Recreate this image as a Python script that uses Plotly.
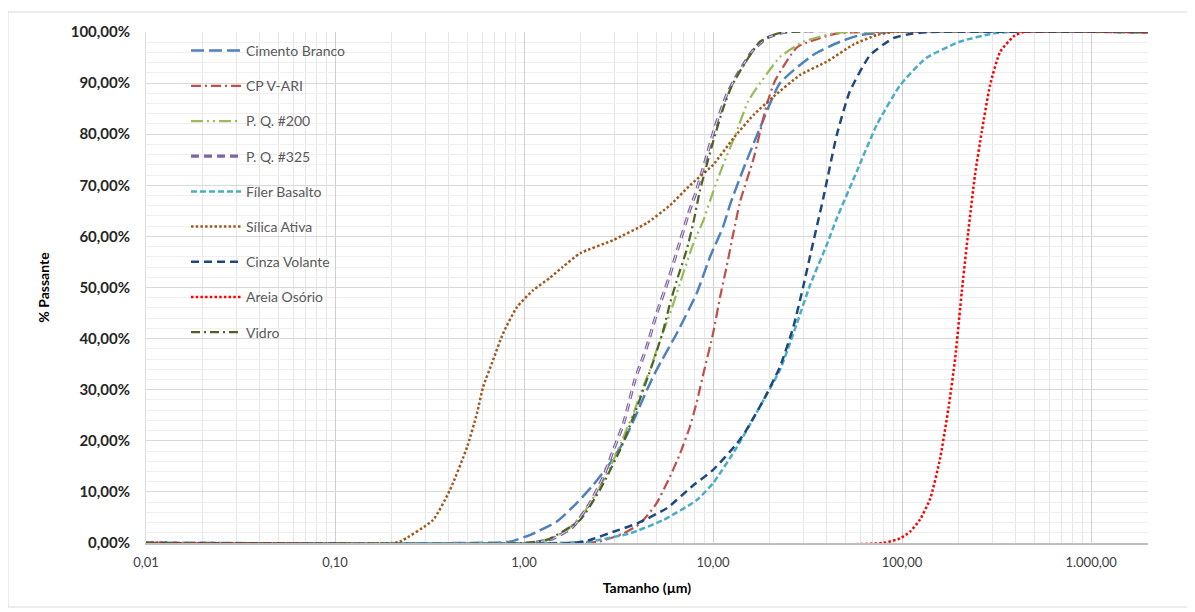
import plotly.graph_objects as go

# ---------------- data ----------------
cb_x = [0.01, 0.5, 0.84, 1.08, 1.49, 1.9, 2.33, 2.85, 3.36, 3.95, 4.46, 5.03, 6.42, 8.2, 9.64, 11.3, 12.4, 14.5, 17.7, 22.6, 33.8, 47, 60, 85, 2000]
cb_y = [0, 0, 0.25, 1.6, 4.2, 7.8, 11.4, 15.6, 19.8, 25.4, 29.9, 33.9, 41, 48.9, 56, 61.9, 66.6, 73.3, 81.2, 90.0, 95.5, 98.1, 99.4, 100, 100]

cp_x = [0.01, 1.5, 2.5, 3.36, 4.11, 5.03, 5.92, 6.69, 7.55, 8.2, 8.9, 10, 10.9, 11.8, 12.8, 13.9, 16.4, 19.2, 21.3, 28, 45, 60, 2000]
cp_y = [0, 0, 0.3, 1.9, 3.8, 7.8, 13, 17.5, 22.8, 27.6, 33.2, 41, 48.2, 54.1, 60.6, 66.8, 75.3, 85.7, 90.5, 97.1, 99.7, 100, 100]

pq200_x = [0.01, 1.0, 1.32, 1.68, 2.06, 2.52, 2.97, 3.36, 3.79, 4.27, 4.64, 5.24, 5.92, 6.96, 7.86, 8.9, 10, 11.3, 13.1, 15.3, 17, 22.6, 30, 45, 2000]
pq200_y = [0, 0, 0.6, 2.5, 5.8, 11, 16.2, 20.8, 25.4, 30.6, 33.9, 39.7, 44.9, 52.8, 58.6, 63.2, 68.7, 74, 79.8, 86.4, 89, 95.1, 98.1, 99.8, 100]

pq325_x = [0.01, 1.1, 1.43, 1.82, 2.23, 2.63, 2.97, 3.36, 3.86, 4.46, 5.03, 5.8, 6.56, 7.42, 8.03, 9.07, 10.2, 11.8, 13.4, 16, 19.2, 24.5, 2000]
pq325_y = [0, 0, 0.9, 3.2, 7.8, 13, 18.2, 23.4, 31.9, 38.4, 44.9, 51.5, 58, 64.5, 68.1, 74.6, 81.2, 87.7, 91.6, 96.1, 98.8, 100, 100]

fb_x = [0.01, 1.5, 2.23, 3.64, 5.46, 8.2, 10, 13.4, 17.7, 22.6, 27.8, 32.6, 39.9, 45.1, 57.6, 73.4, 97.8, 134, 202, 303, 373, 2000]
fb_y = [0, 0, 0.3, 1.9, 4.5, 8.4, 11.7, 18.8, 26.7, 33.9, 43, 50.5, 58.3, 63.5, 72.7, 81.8, 89.6, 94.9, 98.1, 99.7, 100, 100]

sa_x = [0.01, 0.2, 0.22, 0.33, 0.406, 0.5, 0.564, 0.607, 0.686, 0.774, 0.918, 1.12, 1.37, 1.6, 1.98, 2.97, 4.46, 5.92, 7.55, 10, 12.8, 16.4, 20.8, 28.9, 40, 55, 73.4, 90, 2000]
sa_y = [0, 0, 0.25, 4.5, 10.4, 18.8, 25.4, 30.5, 35.8, 41, 46.2, 49.5, 51.9, 54, 56.7, 59.3, 62.6, 66.1, 70, 74, 79.2, 83.8, 87.3, 91.6, 94.2, 97.5, 99.4, 100, 100]

cv_x = [0.01, 1.82, 2.23, 2.97, 3.95, 5.69, 7.86, 10, 13.4, 15, 18.5, 22.6, 26.6, 30, 33, 38.3, 45.1, 52.8, 67.8, 90, 114, 140, 2000]
cv_y = [0, 0, 0.6, 2.2, 3.8, 6.8, 11.3, 14.3, 19.5, 22.1, 28, 34.5, 42.3, 50.2, 57, 67.5, 79.8, 88.3, 95.5, 98.8, 99.7, 100, 100]

ao_x = [0.01, 79, 97.6, 110, 124, 141, 159, 176, 191, 207, 224, 243, 264, 292, 330, 388, 439, 2000]
ao_y = [0, 0, 0.9, 2.2, 4.5, 8.7, 16.6, 26.4, 36.2, 49.2, 60.9, 72, 80.5, 89.6, 96.1, 99.1, 100, 100]

vd_x = [0.01, 1.0, 1.32, 1.98, 2.52, 3.22, 3.79, 4.46, 4.93, 5.46, 5.92, 6.56, 7.24, 7.86, 8.5, 10, 11.3, 12.5, 14.5, 17.7, 22.6, 2000]
vd_y = [0, 0, 0.6, 4.5, 10.4, 18.2, 24.7, 31.9, 36.5, 41.7, 46.9, 52.4, 57.3, 62.6, 68.8, 78.5, 85, 89.3, 93.5, 98.1, 99.8, 100]

x_tickvals = [0.01, 0.1, 1, 10, 100, 1000]
x_ticktext = ["0,01", "0,10", "1,00", "10,00", "100,00", "1.000,00"]
y_tickvals = [0, 10, 20, 30, 40, 50, 60, 70, 80, 90, 100]
y_ticktext = ["0,00%", "10,00%", "20,00%", "30,00%", "40,00%", "50,00%", "60,00%", "70,00%", "80,00%", "90,00%", "100,00%"]

# ---------------- figure ----------------
FONT = "Lato, 'Open Sans', sans-serif"
fig = go.Figure()

series = [
    ("Cimento Branco", cb_x, cb_y, "#4F81BD", 2.5, "13px,5px"),
    ("CP V-ARI", cp_x, cp_y, "#C0504D", 2.25, "10px,4px,2px,4px"),
    ("P. Q. #200", pq200_x, pq200_y, "#9BBB59", 2.25, "12px,4px,2px,4px,2px,4px"),
    ("P. Q. #325", pq325_x, pq325_y, "#8064A2", 3.2, "8px,5px"),
    ("Fíler Basalto", fb_x, fb_y, "#4BACC6", 2.5, "6px,3px"),
    ("Sílica Ativa", sa_x, sa_y, "#A0581E", 2.5, "2.5px,2.2px"),
    ("Cinza Volante", cv_x, cv_y, "#1F497D", 2.5, "8px,5px"),
    ("Areia Osório", ao_x, ao_y, "#FF0000", 2.5, "2.5px,2.2px"),
    ("Vidro", vd_x, vd_y, "#4F6228", 2.25, "9px,4px,2px,4px"),
]

for i, (name, xs, ys, color, w, dash) in enumerate(series):
    fig.add_trace(go.Scatter(
        x=xs, y=ys, mode="lines", name=name,
        legendgroup=f"g{i}",
        line=dict(color=color, width=w, dash=dash, shape="spline", smoothing=0.5),
        hoverinfo="skip",
    ))
    if name == "P. Q. #325":
        fig.add_trace(go.Scatter(
            x=xs, y=ys, mode="lines", name=name, showlegend=False,
            legendgroup=f"g{i}",
            line=dict(color="#E6E0EE", width=1.0, dash=dash, shape="spline", smoothing=0.5),
            hoverinfo="skip",
        ))

# minor tick positions on the log axis (2..9 per decade)
minor_vals = [m * 10 ** e for e in range(-2, 4) for m in range(2, 10) if m * 10 ** e <= 2000]

# screen positions (page has an 8px body margin)
OFF = 8
L, R, T, B = 146, 1148, 32, 543
W, H = 1195, 612
pw, ph = R - L, B - T

def px_x(p):
    return (p - L) / pw

def px_y(p):
    return (B - p) / ph

fig.update_layout(
    width=W, height=H,
    margin=dict(l=L - OFF, r=W - R + OFF, t=T - OFF, b=H - B + OFF),
    paper_bgcolor="white", plot_bgcolor="white",
    font=dict(family=FONT, color="#404040"),
    showlegend=True,
    legend=dict(
        x=px_x(186), y=px_y(35), xanchor="left", yanchor="top",
        bgcolor="rgba(0,0,0,0)", borderwidth=0,
        font=dict(family=FONT, size=14, color="#595959"),
        traceorder="grouped", tracegroupgap=14, itemwidth=50,
    ),
    xaxis=dict(
        type="log", range=[-2, 3.30103],
        tickvals=x_tickvals, ticktext=x_ticktext,
        tickfont=dict(family=FONT, size=13, color="#404040"),
        showgrid=True, gridcolor="#CFCFCF", gridwidth=1.2,
        minor=dict(tickvals=minor_vals, showgrid=True, gridcolor="#E6E6E6", gridwidth=1),
        showline=True, linecolor="#BFBFBF", linewidth=1.5,
        ticks="", zeroline=False, ticklabelstandoff=7,
        title=dict(text="<b>Tamanho (µm)</b>", font=dict(family=FONT, size=14, color="#000000"), standoff=14),
    ),
    yaxis=dict(
        range=[0, 100],
        tickvals=y_tickvals, ticktext=[f"<b>{t}</b>" for t in y_ticktext],
        tickfont=dict(family=FONT, size=15, color="#262626"),
        showgrid=True, gridcolor="#D9D9D9", gridwidth=1.2,
        minor=dict(dtick=2, showgrid=True, gridcolor="#EFEFEF", gridwidth=1),
        showline=True, linecolor="#E0E0E0", linewidth=1,
        ticks="", zeroline=False, ticklabelstandoff=12,
        title=dict(text="<b>% Passante</b>", font=dict(family=FONT, size=14, color="#000000"), standoff=17),
    ),
    shapes=[
        # white legend box over the grid
        dict(type="rect", xref="paper", yref="paper",
             x0=0.001, x1=px_x(400), y0=px_y(345), y1=0.999,
             fillcolor="white", line=dict(width=0), layer="between"),
        # outer chart frame
        dict(type="rect", xref="paper", yref="paper",
             x0=px_x(8), x1=px_x(1190), y0=px_y(607), y1=px_y(12),
             fillcolor="rgba(0,0,0,0)", line=dict(color="#D9D9D9", width=1), layer="above"),
    ],
)

fig.write_html("out.html")
